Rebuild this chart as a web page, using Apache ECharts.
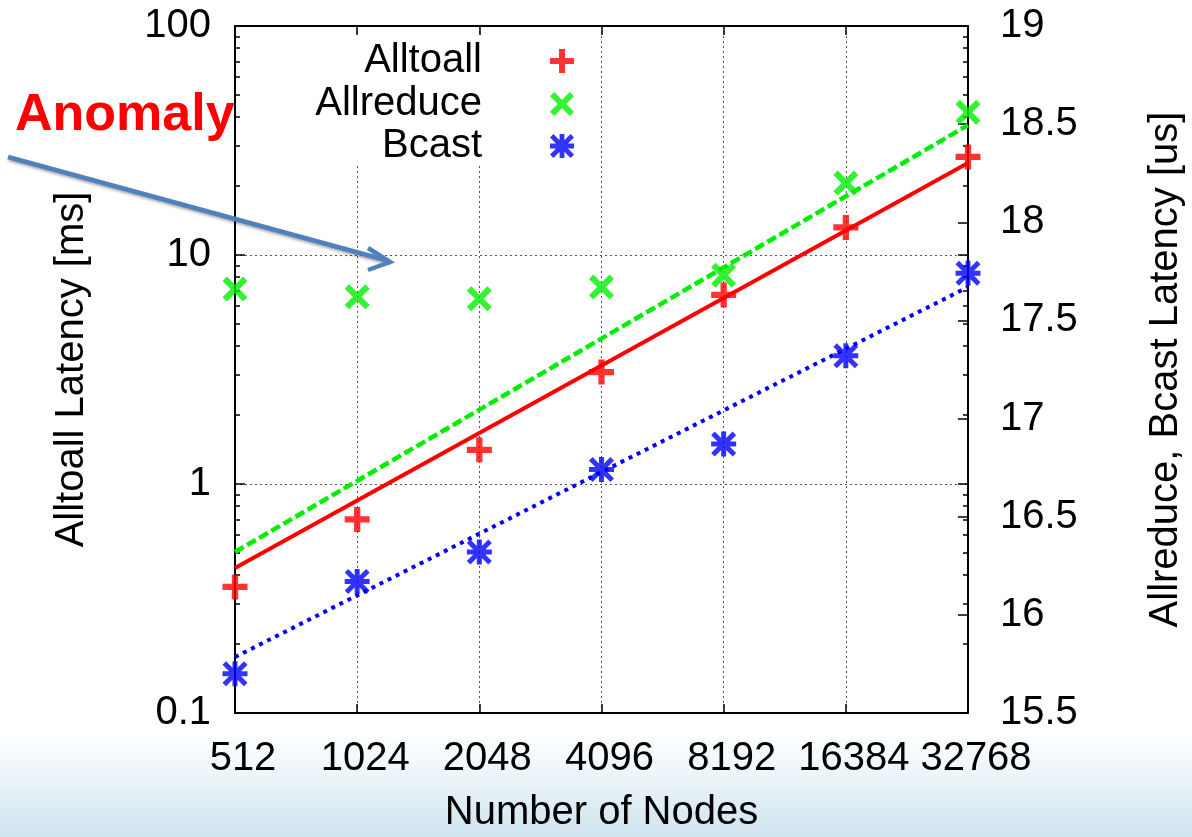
<!DOCTYPE html>
<html><head><meta charset="utf-8">
<script src="https://cdn.jsdelivr.net/npm/echarts@6/dist/echarts.min.js"></script>
<style>html,body{margin:0;padding:0;background:#fff}#c{width:1192px;height:837px}</style>
</head><body><div id="c"></div>
<script>
// ---- data ----
const nodes = [512, 1024, 2048, 4096, 8192, 16384, 32768];
const alltoallMs = [0.355, 0.70, 1.41, 3.08, 6.69, 13.2, 26.8];
const allreduceUs = [17.66, 17.62, 17.61, 17.67, 17.73, 18.20, 18.56];
const bcastUs = [15.70, 16.17, 16.32, 16.74, 16.87, 17.32, 17.74];
// fitted trend lines: values at the first and last node count
const alltoallFit = [0.43, 25.2];
const allreduceFit = [16.32, 18.495];
const bcastFit = [15.785, 17.67];
const leftTicks = [0.1, 1, 10, 100];
const rightTicks = [15.5, 16, 16.5, 17, 17.5, 18, 18.5, 19];
const seriesNames = ['Alltoall', 'Allreduce', 'Bcast'];

const FONT = '"Liberation Sans", Arial, Helvetica, sans-serif';
const PLUS = 'path://M9,0H15V9H24V15H15V24H9V15H0V9H9Z';
const CROSS = 'path://M0,4.2L4.2,0L24,19.8L19.8,24ZM19.8,0L24,4.2L4.2,24L0,19.8Z';
const STAR = 'path://M9.6,0H14.4V9.6H24V14.4H14.4V24H9.6V14.4H0V9.6H9.6ZM0,3.4L3.4,0L24,20.6L20.6,24ZM20.6,0L24,3.4L3.4,24L0,20.6Z';

const pts = (ys) => nodes.map((n, i) => [n, ys[i]]);
const fit = (f) => [[nodes[0], f[0]], [nodes[nodes.length - 1], f[1]]];

const tickStyle = { color: '#000', width: 1.5 };
const gridLine = { show: true, lineStyle: { color: '#555', type: [2, 3], width: 1 } };

const chart = echarts.init(document.getElementById('c'), null, { renderer: 'canvas' });

function legendFor(name, top) {
  return {
    data: [name], orient: 'vertical', align: 'right', right: 618, top: top,
    padding: 0, itemWidth: 150, itemHeight: 24, selectedMode: false,
    textStyle: { fontSize: 40, color: '#000', fontFamily: FONT }
  };
}

chart.setOption({
  animation: false,
  backgroundColor: {
    type: 'linear', x: 0, y: 0, x2: 0, y2: 1,
    colorStops: [
      { offset: 0, color: '#ffffff' },
      { offset: 0.872, color: '#ffffff' },
      { offset: 0.93, color: '#ebf4f8' },
      { offset: 1, color: '#cfe4f1' }
    ]
  },
  textStyle: { fontFamily: FONT },
  grid: { left: 235, right: 224, top: 26, bottom: 124, show: false, containLabel: false, outerBoundsMode: 'none' },
  legend: [legendFor(seriesNames[0], 41), legendFor(seriesNames[1], 84), legendFor(seriesNames[2], 126)],
  xAxis: [
    {
      type: 'log', logBase: 2, min: nodes[0], max: nodes[nodes.length - 1], position: 'bottom',
      name: 'Number of Nodes', nameLocation: 'middle', nameGap: 80,
      nameTextStyle: { fontSize: 40, color: '#000', fontFamily: FONT },
      axisLine: { show: true, onZero: false, lineStyle: { color: '#000', width: 2 } },
      axisTick: { show: true, inside: true, length: 9, lineStyle: tickStyle },
      axisLabel: { fontSize: 40, color: '#000', margin: 26, padding: [0, 0, 0, 16], fontFamily: FONT, formatter: v => String(Math.round(v)) },
      splitLine: gridLine, minorTick: { show: false }
    },
    {
      type: 'log', logBase: 2, min: nodes[0], max: nodes[nodes.length - 1], position: 'top',
      axisLine: { show: true, onZero: false, lineStyle: { color: '#000', width: 2 } },
      axisTick: { show: true, inside: true, length: 9, lineStyle: tickStyle },
      axisLabel: { show: false }, splitLine: { show: false }
    }
  ],
  yAxis: [
    {
      type: 'log', logBase: 10, min: leftTicks[0], max: leftTicks[leftTicks.length - 1], position: 'left',
      name: 'Alltoall Latency [ms]', nameLocation: 'middle', nameRotate: 90, nameGap: 143,
      nameTextStyle: { fontSize: 40, color: '#000', fontFamily: FONT },
      axisLine: { show: true, onZero: false, lineStyle: { color: '#000', width: 2 } },
      axisTick: { show: true, inside: true, length: 10, lineStyle: tickStyle },
      minorTick: { show: true, splitNumber: 9, length: 5, lineStyle: tickStyle },
      axisLabel: { fontSize: 40, color: '#000', margin: 24, fontFamily: FONT, formatter: v => (v < 1 ? v.toFixed(1) : String(Math.round(v))) },
      splitLine: gridLine
    },
    {
      type: 'value', min: rightTicks[0], max: rightTicks[rightTicks.length - 1], interval: 0.5, position: 'right',
      name: 'Allreduce, Bcast Latency [us]', nameLocation: 'middle', nameRotate: 90, nameGap: 178,
      nameTextStyle: { fontSize: 40, color: '#000', fontFamily: FONT },
      axisLine: { show: true, onZero: false, lineStyle: { color: '#000', width: 2 } },
      axisTick: { show: true, inside: true, length: 10, lineStyle: tickStyle },
      axisLabel: { fontSize: 40, color: '#000', margin: 32, fontFamily: FONT },
      splitLine: { show: false }
    },
    {
      type: 'log', logBase: 10, min: leftTicks[0], max: leftTicks[leftTicks.length - 1], position: 'right',
      axisLine: { show: false }, axisLabel: { show: false }, splitLine: { show: false },
      axisTick: { show: true, inside: true, length: 10, lineStyle: tickStyle },
      minorTick: { show: true, splitNumber: 9, length: 5, lineStyle: tickStyle }
    }
  ],
  series: [
    { name: 'Alltoall fit', type: 'line', xAxisIndex: 0, yAxisIndex: 0, data: fit(alltoallFit), showSymbol: false, symbol: 'none', silent: true,
      lineStyle: { color: '#ff0000', width: 4, type: 'solid' }, z: 2 },
    { name: 'Allreduce fit', type: 'line', xAxisIndex: 0, yAxisIndex: 1, data: fit(allreduceFit), showSymbol: false, symbol: 'none', silent: true,
      lineStyle: { color: '#00ee00', width: 4.5, type: [10, 4] }, z: 2 },
    { name: 'Bcast fit', type: 'line', xAxisIndex: 0, yAxisIndex: 1, data: fit(bcastFit), showSymbol: false, symbol: 'none', silent: true,
      lineStyle: { color: '#0000ff', width: 4, type: [4, 5] }, z: 2 },
    { name: seriesNames[0], type: 'scatter', xAxisIndex: 0, yAxisIndex: 0, data: pts(alltoallMs), symbol: PLUS, symbolSize: 25, clip: false,
      itemStyle: { color: '#ff0000' }, z: 3 },
    { name: seriesNames[1], type: 'scatter', xAxisIndex: 0, yAxisIndex: 1, data: pts(allreduceUs), symbol: CROSS, symbolSize: 25, clip: false,
      itemStyle: { color: '#00ee00' }, z: 3 },
    { name: seriesNames[2], type: 'scatter', xAxisIndex: 0, yAxisIndex: 1, data: pts(bcastUs), symbol: STAR, symbolSize: 25, clip: false,
      itemStyle: { color: '#0000ff' }, z: 3 }
  ],
  graphic: [
    { type: 'rect', z: 1, silent: true, shape: { x: 300, y: 36, width: 290, height: 127 }, style: { fill: '#ffffff' } },
    { type: 'text', z: 10, x: 15, y: 116, style: { text: 'Anomaly', fill: '#ff0000', font: 'bold 52px ' + FONT, verticalAlign: 'middle', align: 'left' } },
    { type: 'polyline', z: 10, silent: true, shape: { points: [[8, 157], [389, 261]] },
      style: { stroke: '#4F81BD', lineWidth: 4.5, fill: null, shadowBlur: 3, shadowColor: 'rgba(0,0,0,0.35)', shadowOffsetX: 1, shadowOffsetY: 2 } },
    { type: 'polyline', z: 10, silent: true, shape: { points: [[368, 248], [390, 262], [368, 270]] },
      style: { stroke: '#4F81BD', lineWidth: 4.5, fill: null, lineJoin: 'miter' } }
  ]
});
</script>
</body></html>
